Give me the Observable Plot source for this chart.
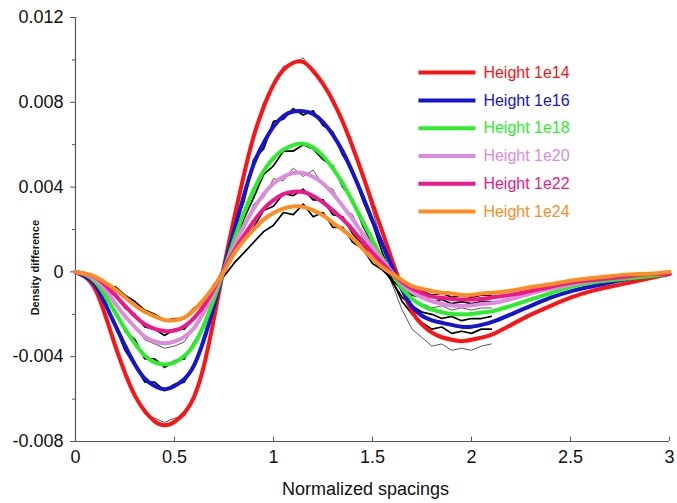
<!DOCTYPE html>
<html><head><meta charset="utf-8">
<script src="https://cdn.jsdelivr.net/npm/d3@7"></script>
<script src="https://cdn.jsdelivr.net/npm/@observablehq/plot@0.6"></script>
<style>body{margin:0;background:#fff;}</style>
</head><body><div id="chart"></div>
<script>
const names = ["Height 1e14","Height 1e16","Height 1e18","Height 1e20","Height 1e22","Height 1e24"];
const colors = ["#ff1212","#1414d2","#2aee2a","#dc8cdc","#f0168c","#ff8c1e"];

const xFit = [0,0.05,0.1,0.15,0.2,0.25,0.3,0.35,0.4,0.45,0.5,0.55,0.6,0.65,0.7,0.75,0.8,0.85,0.9,0.95,1,1.05,1.1,1.15,1.2,1.25,1.3,1.35,1.4,1.45,1.5,1.55,1.6,1.65,1.7,1.75,1.8,1.85,1.9,1.95,2,2.05,2.1,2.2,2.3,2.4,2.5,2.6,2.7,2.8,2.9,3];

const fit1e14 = [0,-0.0002,-0.0007,-0.0020,
 -0.0035,-0.0048,-0.0059,-0.0066,-0.0071,-0.0073,
 -0.0071,-0.0067,-0.0060,-0.0045,-0.0022,0.0003,
 0.0025,0.0046,0.0065,0.0078,0.0089,0.0096,
 0.0099,0.0100,0.0095,0.0089,0.0081,0.0071,
 0.0059,0.0046,0.0032,0.0019,0.0005,-0.0008,
 -0.0020,-0.0025,-0.0029,-0.0031,-0.0032,-0.0033,
 -0.0032,-0.0031,-0.0030,
 -0.0025,-0.0020,-0.0016,-0.0012,-0.0009,-0.0007,-0.0005,-0.0003,-0.0001];
const fit1e16 = [0,-0.0002,-0.0005,-0.0015,
 -0.0025,-0.0035,-0.0044,-0.0051,-0.0054,-0.0056,
 -0.0054,-0.0051,-0.0045,-0.0032,-0.0016,0.0002,
 0.0019,0.0036,0.0052,0.0061,0.0069,0.0074,
 0.0076,0.0076,0.0075,0.0071,0.0065,0.0057,
 0.0047,0.0036,0.0024,0.0013,0.0002,-0.0009,
 -0.0017,-0.0021,-0.0023,-0.0024,-0.0025,-0.0026,
 -0.0026,-0.0025,-0.0024,
 -0.0020,-0.0016,-0.0012,-0.0009,-0.0007,-0.0005,-0.0003,-0.0002,-0.0001];
const fit1e18 = [0,-0.0001,-0.0004,-0.0011,
 -0.0019,-0.0027,-0.0034,-0.0040,-0.0043,-0.0044,
 -0.0043,-0.0040,-0.0035,-0.0025,-0.0013,0.0001,
 0.0015,0.0028,0.0039,0.0048,0.0054,0.0058,
 0.0060,0.0061,0.0059,0.0055,0.0049,0.0042,
 0.0033,0.0024,0.0015,0.0006,-0.0001,-0.0008,
 -0.0013,-0.0016,-0.0018,-0.0019,-0.0020,-0.0020,
 -0.0020,-0.0019,-0.0019,
 -0.0016,-0.0013,-0.0010,-0.0007,-0.0005,-0.0004,-0.0003,-0.0002,-0.0001];
const fit1e20 = [0,-0.0001,-0.0003,-0.0008,
 -0.0015,-0.0021,-0.0026,-0.0031,-0.0033,-0.0034,
 -0.0033,-0.0031,-0.0027,-0.0019,-0.0010,0.0001,
 0.0012,0.0022,0.0030,0.0037,0.0042,0.0045,
 0.0047,0.0047,0.0045,0.0042,0.0037,0.0031,
 0.0025,0.0018,0.0012,0.0005,0.0000,-0.0006,
 -0.0010,-0.0012,-0.0014,-0.0015,-0.0016,-0.0016,
 -0.0016,-0.0015,-0.0015,
 -0.0013,-0.0010,-0.0008,-0.0006,-0.0004,-0.0003,-0.0002,-0.0001,-0.0001];
const fit1e22 = [0,-0.0001,-0.0002,-0.0006,
 -0.0011,-0.0016,-0.0021,-0.0025,-0.0027,-0.0028,
 -0.0028,-0.0026,-0.0022,-0.0016,-0.0008,0.0001,
 0.0010,0.0017,0.0024,0.0030,0.0034,0.0037,
 0.0038,0.0038,0.0036,0.0033,0.0029,0.0025,
 0.0020,0.0014,0.0009,0.0004,-0.0001,-0.0005,
 -0.0008,-0.0010,-0.0012,-0.0012,-0.0013,-0.0013,
 -0.0013,-0.0013,-0.0012,
 -0.0011,-0.0009,-0.0007,-0.0005,-0.0004,-0.0003,-0.0002,-0.0001,-0.0001];
const fit1e24 = [0,-0.0001,-0.0002,-0.0005,
 -0.0008,-0.0012,-0.0016,-0.0019,-0.0021,-0.0023,
 -0.0023,-0.0022,-0.0018,-0.0013,-0.0007,0.0000,
 0.0009,0.0015,0.0020,0.0025,0.0028,0.0030,
 0.0031,0.0031,0.0029,0.0027,0.0023,0.0020,
 0.0016,0.0011,0.0006,0.0002,-0.0001,-0.0004,
 -0.0007,-0.0008,-0.0009,-0.0010,-0.0010,-0.0011,
 -0.0011,-0.0010,-0.0010,
 -0.0009,-0.0007,-0.0006,-0.0004,-0.0003,-0.0002,-0.0001,-0.0001,0.0000];

const xSim = [0.2,0.25,0.3,0.35,0.4,0.45,0.5,0.55,0.6,0.65,0.7,0.75,0.8,0.85,0.9,0.95,1,1.05,1.1,1.15,1.2,1.25,1.3,1.35,1.4,1.45,1.5,1.55,1.6,1.65,1.7,1.75,1.8,1.85,1.9,1.95,2,2.05,2.1];
const sim1e14 = [-0.0034,-0.0049,-0.0058,-0.0067,-0.0069,-0.0071,
 -0.0069,-0.0068,-0.0058,-0.0046,-0.0021,0.0004,
 0.0024,0.0047,0.0063,0.0080,0.0088,0.0097,
 0.0098,0.0101,0.0094,0.0090,0.0079,0.0072,
 0.0057,0.0045,0.0029,0.0013,-0.0006,-0.0018,
 -0.0027,-0.0031,-0.0035,-0.0034,-0.0037,-0.0036,
 -0.0037,-0.0035,-0.0034];
const sim1e16 = [-0.0025,-0.0037,-0.0044,-0.0052,-0.0052,-0.0056,
 -0.0053,-0.0052,-0.0043,-0.0033,-0.0014,0.0001,
 0.0021,0.0033,0.0053,0.0058,0.0071,0.0072,
 0.0077,0.0074,0.0076,0.0069,0.0066,0.0055,
 0.0048,0.0034,0.0023,0.0009,-0.0004,-0.0014,
 -0.0020,-0.0024,-0.0027,-0.0026,-0.0029,-0.0028,
 -0.0029,-0.0027,-0.0027];
const sim1e18 = [-0.0018,-0.0028,-0.0032,-0.0041,-0.0041,-0.0045,
 -0.0042,-0.0041,-0.0033,-0.0026,-0.0011,-0.0001,
 0.0011,0.0025,0.0035,0.0046,0.0050,0.0057,
 0.0057,0.0060,0.0058,0.0053,0.0050,0.0040,
 0.0034,0.0022,0.0013,0.0003,-0.0005,-0.0012,
 -0.0016,-0.0019,-0.0020,-0.0022,-0.0021,-0.0023,
 -0.0022,-0.0022,-0.0021];
const sim1e20 = [-0.0014,-0.0022,-0.0025,-0.0032,-0.0034,-0.0036,
 -0.0035,-0.0033,-0.0026,-0.0020,-0.0008,0.0002,
 0.0013,0.0020,0.0032,0.0035,0.0044,0.0043,
 0.0049,0.0045,0.0048,0.0041,0.0039,0.0030,
 0.0027,0.0016,0.0010,0.0002,-0.0004,-0.0009,
 -0.0013,-0.0015,-0.0017,-0.0016,-0.0018,-0.0017,
 -0.0018,-0.0017,-0.0017];
const sim1e22 = [-0.0010,-0.0017,-0.0020,-0.0026,-0.0027,-0.0030,
 -0.0027,-0.0027,-0.0021,-0.0017,-0.0006,0.0000,
 0.0008,0.0015,0.0021,0.0029,0.0031,0.0037,
 0.0036,0.0039,0.0034,0.0034,0.0027,0.0026,
 0.0018,0.0013,0.0006,0.0001,-0.0004,-0.0008,
 -0.0011,-0.0012,-0.0014,-0.0013,-0.0015,-0.0014,
 -0.0015,-0.0014,-0.0014];
const sim1e24 = [-0.0007,-0.0011,-0.0014,-0.0018,-0.0020,-0.0023,
 -0.0022,-0.0022,-0.0017,-0.0014,-0.0006,-0.0002,
 0.0004,0.0009,0.0014,0.0019,0.0022,0.0028,
 0.0027,0.0032,0.0026,0.0028,0.0021,0.0021,
 0.0014,0.0011,0.0004,0.0001,-0.0003,-0.0005,
 -0.0008,-0.0009,-0.0011,-0.0010,-0.0012,-0.0011,
 -0.0012,-0.0011,-0.0011];

const yTicks = [-0.008,-0.004,0,0.004,0.008,0.012];
const yMinor = [-0.006,-0.002,0.002,0.006,0.010];
const xTicks = [0,0.5,1,1.5,2,2.5,3];

const fitY = [fit1e14,fit1e16,fit1e18,fit1e20,fit1e22,fit1e24];
const simY = [sim1e14,sim1e16,sim1e18,sim1e20,sim1e22,sim1e24];
const fitRows = names.flatMap((n,i) => xFit.map((x,j) => ({series:n, i, x, y: fitY[i][j]})));
const simRows = names.flatMap((n,i) => xSim.map((x,j) => ({series:n, i, x, y: simY[i][j]})));
const thinSim = new Set([0,3]);

const legendY = i => 0.0094 - i * 0.00131;
const axisColor = "#555";

const marks = [
  Plot.axisY({ticks: yTicks, tickSize: 5, tickPadding: 7, fontSize: 18, label: null, stroke: axisColor,
    tickFormat: d => d === 0 ? "0" : d.toFixed(3)}),
  Plot.axisY({ticks: yMinor, tickSize: 3, label: null, stroke: axisColor, tickFormat: () => ""}),
  Plot.axisX({ticks: xTicks, tickSize: 0, tickPadding: 9, fontSize: 18, label: null, tickFormat: d => String(d)}),
  Plot.ruleX(xTicks, {y1: -0.008, y2: -0.0078, stroke: axisColor}),
  Plot.ruleX([0], {stroke: axisColor, strokeWidth: 1.2}),
  Plot.ruleY([-0.008], {stroke: axisColor, strokeWidth: 1.2}),
  Plot.line(simRows.filter(d => thinSim.has(d.i)), {x: "x", y: "y", z: "series", stroke: "#444", strokeWidth: 0.9}),
  Plot.line(simRows.filter(d => !thinSim.has(d.i)), {x: "x", y: "y", z: "series", stroke: "#000", strokeWidth: 1.7}),
  ...names.map((n,i) => Plot.line(fitRows.filter(d => d.i === i), {x: "x", y: "y", stroke: colors[i], strokeWidth: 4, curve: "basis"})),
  Plot.link(names, {x1: 1.732, x2: 2.02, y1: (d,i) => legendY(i), y2: (d,i) => legendY(i), stroke: (d,i) => colors[i], strokeWidth: 4}),
  Plot.text(names, {x: 2.06, y: (d,i) => legendY(i), text: d => d, fill: (d,i) => colors[i], textAnchor: "start", fontSize: 16}),
  Plot.text(["Density difference"], {x: -0.2, y: 0.0002, text: d => d, rotate: -90, fontWeight: "bold", fontSize: 11, fill: "#111"}),
  Plot.text(["Normalized spacings"], {x: 1.465, y: -0.01026, text: d => d, fontSize: 18, fill: "#111"})
];

const chart = Plot.plot({
  width: 677, height: 503,
  marginLeft: 75, marginRight: 8, marginTop: 17, marginBottom: 62,
  x: {domain: [0, 3]},
  y: {domain: [-0.008, 0.012]},
  color: {type: "identity"},
  style: {fontFamily: "'Liberation Sans', Arial, sans-serif", background: "#fff", color: "#111"},
  marks
});
document.getElementById("chart").appendChild(chart);
</script>
</body></html>
